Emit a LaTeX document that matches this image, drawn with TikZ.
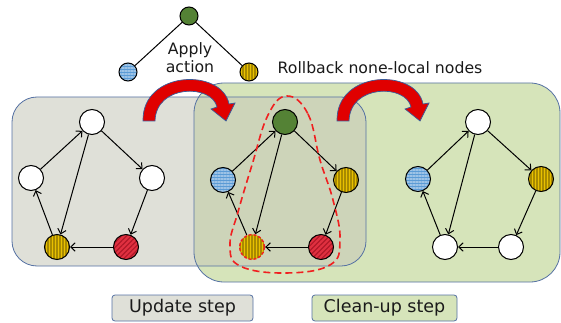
\documentclass[tikz,border=0pt]{standalone}
\usepackage{fontspec}
\setmainfont{DejaVu Sans}
\usetikzlibrary{arrows.meta,patterns.meta}
\definecolor{grayfill}{HTML}{DFE0D8}
\definecolor{greenfill}{HTML}{D6E4BA}
\definecolor{overlapfill}{HTML}{CDD4B9}
\definecolor{boxedge}{HTML}{5571A3}
\definecolor{bluebase}{HTML}{5B9BD5}
\definecolor{bluestripe}{HTML}{9DC3E6}
\definecolor{goldbase}{HTML}{E8C000}
\definecolor{goldstripe}{HTML}{A88A00}
\definecolor{redbase}{HTML}{E03040}
\definecolor{redstripe}{HTML}{B01828}
\definecolor{darkgreen}{HTML}{548235}
\definecolor{arrowred}{HTML}{E00000}
\definecolor{arrowedge}{HTML}{3B5C9A}
\definecolor{dashred}{HTML}{F02020}
\definecolor{textdark}{HTML}{1A1A1A}
\tikzset{
  circ/.style={circle, draw=black, line width=1pt, minimum size=25pt, inner sep=0pt},
  smallcirc/.style={circ, minimum size=18pt},
  whitenode/.style={fill=white},
  greennode/.style={fill=darkgreen},
  bluenode/.style={preaction={fill=bluebase}, pattern={Lines[angle=0,distance=3pt,line width=1.3pt]}, pattern color=bluestripe},
  goldnode/.style={preaction={fill=goldbase}, pattern={Lines[angle=90,distance=3pt,line width=1.1pt]}, pattern color=goldstripe},
  rednode/.style={preaction={fill=redbase}, pattern={Lines[angle=45,distance=3.5pt,line width=1.2pt]}, pattern color=redstripe},
  edgearrow/.style={draw=black, line width=1pt, -{Straight Barb[length=4.5pt,width=8.5pt]}},
  treeline/.style={draw=black, line width=1pt},
  bigbox/.style={draw=boxedge, line width=0.8pt},
  labelbox/.style={draw=boxedge, line width=0.8pt, rounded corners=3pt, minimum height=26pt, inner sep=0pt, font=\fontsize{17.5}{20}\selectfont, text=textdark},
  toptext/.style={font=\fontsize{15.7}{18}\selectfont, text=textdark, inner sep=0pt},
  bigarrow/.pic={
    \draw[fill=arrowred, draw=arrowedge, line width=0.7pt]
      (143,121) .. controls (142,70) and (222,68) .. (229,104)
      -- (235,103) -- (226,121) -- (211,109) -- (217,107)
      .. controls (212,84) and (156,84) .. (155,121) -- cycle;
  }
}
\begin{document}
\begin{tikzpicture}[x=1pt,y=-1pt]
\useasboundingbox (0,0) rectangle (561,323);
% big boxes
\fill[grayfill, rounded corners=25pt] (12,97) rectangle (366,266);
\fill[greenfill, rounded corners=30pt] (194,83) rectangle (560,282);
\begin{scope}
  \clip[rounded corners=25pt] (12,97) rectangle (366,266);
  \fill[overlapfill, rounded corners=30pt] (194,83) rectangle (560,282);
\end{scope}
\draw[bigbox, rounded corners=25pt] (12,97) rectangle (366,266);
\draw[bigbox, rounded corners=30pt] (194,83) rectangle (560,282);

% top tree
\node[smallcirc, greennode] (tg) at (189,16) {};
\node[smallcirc, bluenode] (tb) at (128,72) {};
\node[smallcirc, goldnode] (ty) at (249,72) {};
\draw[treeline] (tg) -- (tb);
\draw[treeline] (tg) -- (ty);
\node[toptext, anchor=base] (apply) at (190,55) {Apply};
\node[toptext, anchor=base] (action) at (190,73) {action};
\node[toptext, anchor=base] (rollback) at (380,74) {Rollback none-local nodes};

% left graph
\node[circ, whitenode] (aT) at (92,122) {};
\node[circ, whitenode] (aL) at (31,178) {};
\node[circ, whitenode] (aR) at (152,178) {};
\node[circ, goldnode] (aY) at (57,247) {};
\node[circ, rednode] (aD) at (126,247) {};

% middle graph
\node[circ, greennode] (bT) at (285,122) {};
\node[circ, bluenode] (bL) at (223,180) {};
\node[circ, goldnode] (bR) at (346,180) {};
\node[circ, goldnode, draw=dashred, dash pattern=on 3pt off 2pt, line width=1.4pt] (bY) at (252,247) {};
\node[circ, rednode] (bD) at (321,247) {};

% right graph
\node[circ, whitenode] (cT) at (478,122) {};
\node[circ, bluenode] (cL) at (418,179) {};
\node[circ, goldnode] (cR) at (541,179) {};
\node[circ, whitenode] (cY) at (445,247) {};
\node[circ, whitenode] (cD) at (511,247) {};

\foreach \g in {a,b,c} {
  \draw[edgearrow] (\g T) -- (\g R);
  \draw[edgearrow] (\g R) -- (\g D);
  \draw[edgearrow] (\g D) -- (\g Y);
  \draw[edgearrow] (\g Y) -- (\g L);
  \draw[edgearrow] (\g L) -- (\g T);
  \draw[edgearrow] (\g T) -- (\g Y);
}

% dashed loop
\draw[dashred, line width=1.6pt, dash pattern=on 7pt off 4pt]
  plot[smooth cycle, tension=0.7] coordinates {(287,96) (308,114) (320,160) (333,200) (340,240) (330,265) (285,273) (240,266) (230,245) (238,212) (252,165) (268,115)};

% curved arrows
\pic at (0,0) {bigarrow};
\pic at (194,0) {bigarrow};

% labels
\node[labelbox, fill=grayfill, minimum width=141pt] (upd) at (182.5,308) {Update step};
\node[labelbox, fill=greenfill, minimum width=145pt] (cln) at (384.5,308) {Clean-up step};
\end{tikzpicture}
\end{document}
